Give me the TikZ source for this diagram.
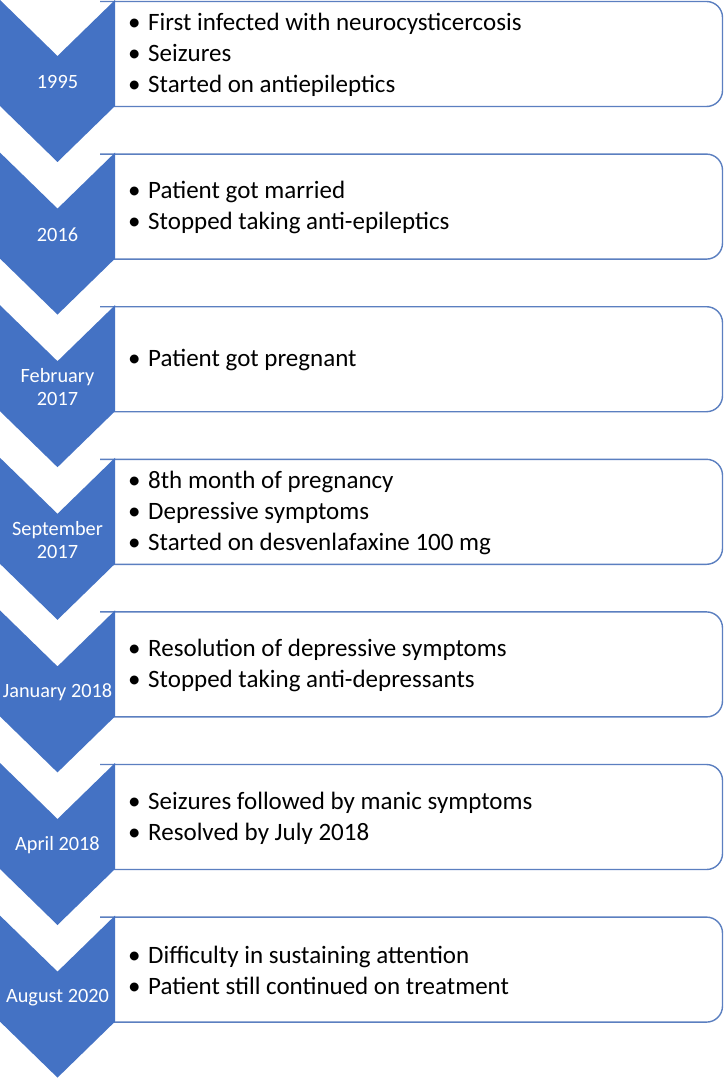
\documentclass[tikz,border=0pt]{standalone}
\usepackage{fontspec}
\setmainfont{Carlito}
\definecolor{chev}{HTML}{4472C4}
\definecolor{boxln}{HTML}{5B7FC0}
\newcommand{\bitem}[1]{\makebox[20pt][l]{•}#1}
\tikzset{
  chevron/.style={fill=chev,draw=none},
  eventbox/.style={draw=boxln,line width=1.4pt,fill=white},
  yearlbl/.style={text=white,font=\fontsize{20.3}{22.5}\selectfont,align=center,inner sep=0pt},
  bullets/.style={anchor=west,align=left,inner sep=0pt,font=\fontsize{25}{31}\selectfont,text=black}
}
\begin{document}
\begin{tikzpicture}[x=1pt,y=-1pt]
\useasboundingbox (0,0) rectangle (724,1078);
\fill[white] (0,0) rectangle (724,1078);
\foreach \k/\yr/\txt in {
 0/{1995}/{\bitem{First infected with neurocysticercosis}\\\bitem{Seizures}\\\bitem{Started on antiepileptics}},
 1/{2016}/{\bitem{Patient got married}\\\bitem{Stopped taking anti-epileptics}},
 2/{February\\2017}/{\bitem{Patient got pregnant}},
 3/{September\\2017}/{\bitem{8th month of pregnancy}\\\bitem{Depressive symptoms}\\\bitem{Started on desvenlafaxine 100 mg}},
 4/{January 2018}/{\bitem{Resolution of depressive symptoms}\\\bitem{Stopped taking anti-depressants}},
 5/{April 2018}/{\bitem{Seizures followed by manic symptoms}\\\bitem{Resolved by July 2018}},
 6/{August 2020}/{\bitem{Difficulty in sustaining attention}\\\bitem{Patient still continued on treatment}}}{
  \pgfmathsetmacro{\t}{152.6*\k}
  \draw[eventbox] (100,\t+1.5) -- (115,\t+1.5) [rounded corners=16pt] -- (722.5,\t+1.5) -- (722.5,\t+106.5) [sharp corners] -- (100,\t+106.5);
  \fill[chevron] (0,\t) -- (57.5,\t+56) -- (115,\t) -- (115,\t+106) -- (57.5,\t+162) -- (0,\t+106) -- cycle;
  \node[yearlbl] (yr\k) at (57.5,\t+82) {\yr};
  \node[bullets] (ev\k) at (128,\t+55) {\txt};
}
\end{tikzpicture}
\end{document}
